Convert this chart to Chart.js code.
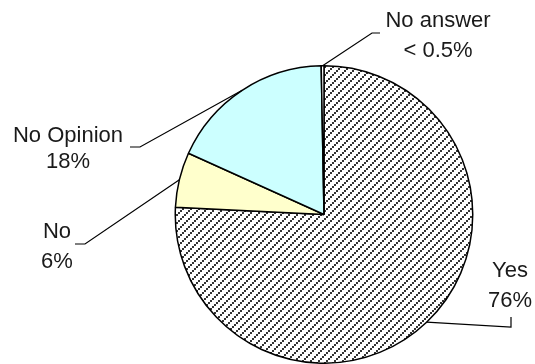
<!DOCTYPE html>
<html>
<head>
<meta charset="utf-8">
<script src="https://cdn.jsdelivr.net/npm/chart.js@4"></script>
<style>
  body { margin: 0; background: #fff; overflow: hidden; }
  canvas { display: block; }
</style>
</head>
<body>
<canvas id="grafico" width="535" height="364"></canvas>
<script>
// respuestas de la encuesta, en orden horario desde arriba
let categorias = ['Yes', 'No', 'No Opinion', 'No answer']
let valores = [76, 6, 18, 0.3]

// donde va cada rótulo: centro del texto, líneas base, codo y final de la guía
let rotulos = [
  { x: 510, y: [277, 307], codo: [511, 327], fin: [511, 317] },
  { x: 57, y: [238, 268], codo: [85, 244], fin: [75, 244] },
  { x: 68, y: [142, 168], codo: [140, 147], fin: [130, 147] },
  { x: 438, y: [27, 57], codo: [372, 33], fin: [380, 33] }
]

function texto_valor(v){
  return v < 0.5 ? '< 0.5%' : v + '%'
}

// rayado diagonal para la porción "Yes"
function rayado(){
  let c = document.createElement('canvas')
  c.width = 8
  c.height = 8
  let g = c.getContext('2d')
  g.fillStyle = '#fff'
  g.fillRect(0, 0, 8, 8)
  g.fillStyle = '#333'
  g.fillRect(0, 6, 2, 2)
  g.fillRect(2, 4, 2, 2)
  g.fillRect(4, 2, 2, 2)
  g.fillRect(6, 0, 2, 2)
  return g.createPattern(c, 'repeat')
}

let grafico = document.getElementById('grafico').getContext('2d')

let guias = {
  id: 'guias',
  afterDraw(chart){
    let ctx = chart.ctx
    let arcos = chart.getDatasetMeta(0).data
    ctx.save()
    ctx.strokeStyle = '#000'
    ctx.lineWidth = 1.2
    ctx.fillStyle = '#1a1a1a'
    ctx.font = '22px "Liberation Sans", Arial, sans-serif'
    ctx.textAlign = 'center'
    ctx.textBaseline = 'alphabetic'
    arcos.forEach((arco, i) => {
      let p = arco.getProps(['x', 'y', 'startAngle', 'endAngle', 'outerRadius'], true)
      let medio = (p.startAngle + p.endAngle) / 2
      let bx = p.x + Math.cos(medio) * p.outerRadius
      let by = p.y + Math.sin(medio) * p.outerRadius
      let r = rotulos[i]
      ctx.beginPath()
      ctx.moveTo(bx, by)
      ctx.lineTo(r.codo[0], r.codo[1])
      ctx.lineTo(r.fin[0], r.fin[1])
      ctx.stroke()
      ctx.fillText(categorias[i], r.x, r.y[0])
      ctx.fillText(texto_valor(valores[i]), r.x, r.y[1])
    })
    ctx.restore()
  }
}

new Chart(grafico, {
  type: 'pie',
  data: {
    labels: categorias,
    datasets: [{
      data: valores,
      backgroundColor: [rayado(), '#FFFFCC', '#CCFFFF', '#ffffff'],
      borderColor: '#000',
      borderWidth: 1.5
    }]
  },
  options: {
    responsive: false,
    animation: false,
    layout: { padding: { left: 174, right: 61, top: 65, bottom: 0 } },
    plugins: {
      legend: { display: false },
      tooltip: { enabled: false }
    }
  },
  plugins: [guias]
})
</script>
</body>
</html>
